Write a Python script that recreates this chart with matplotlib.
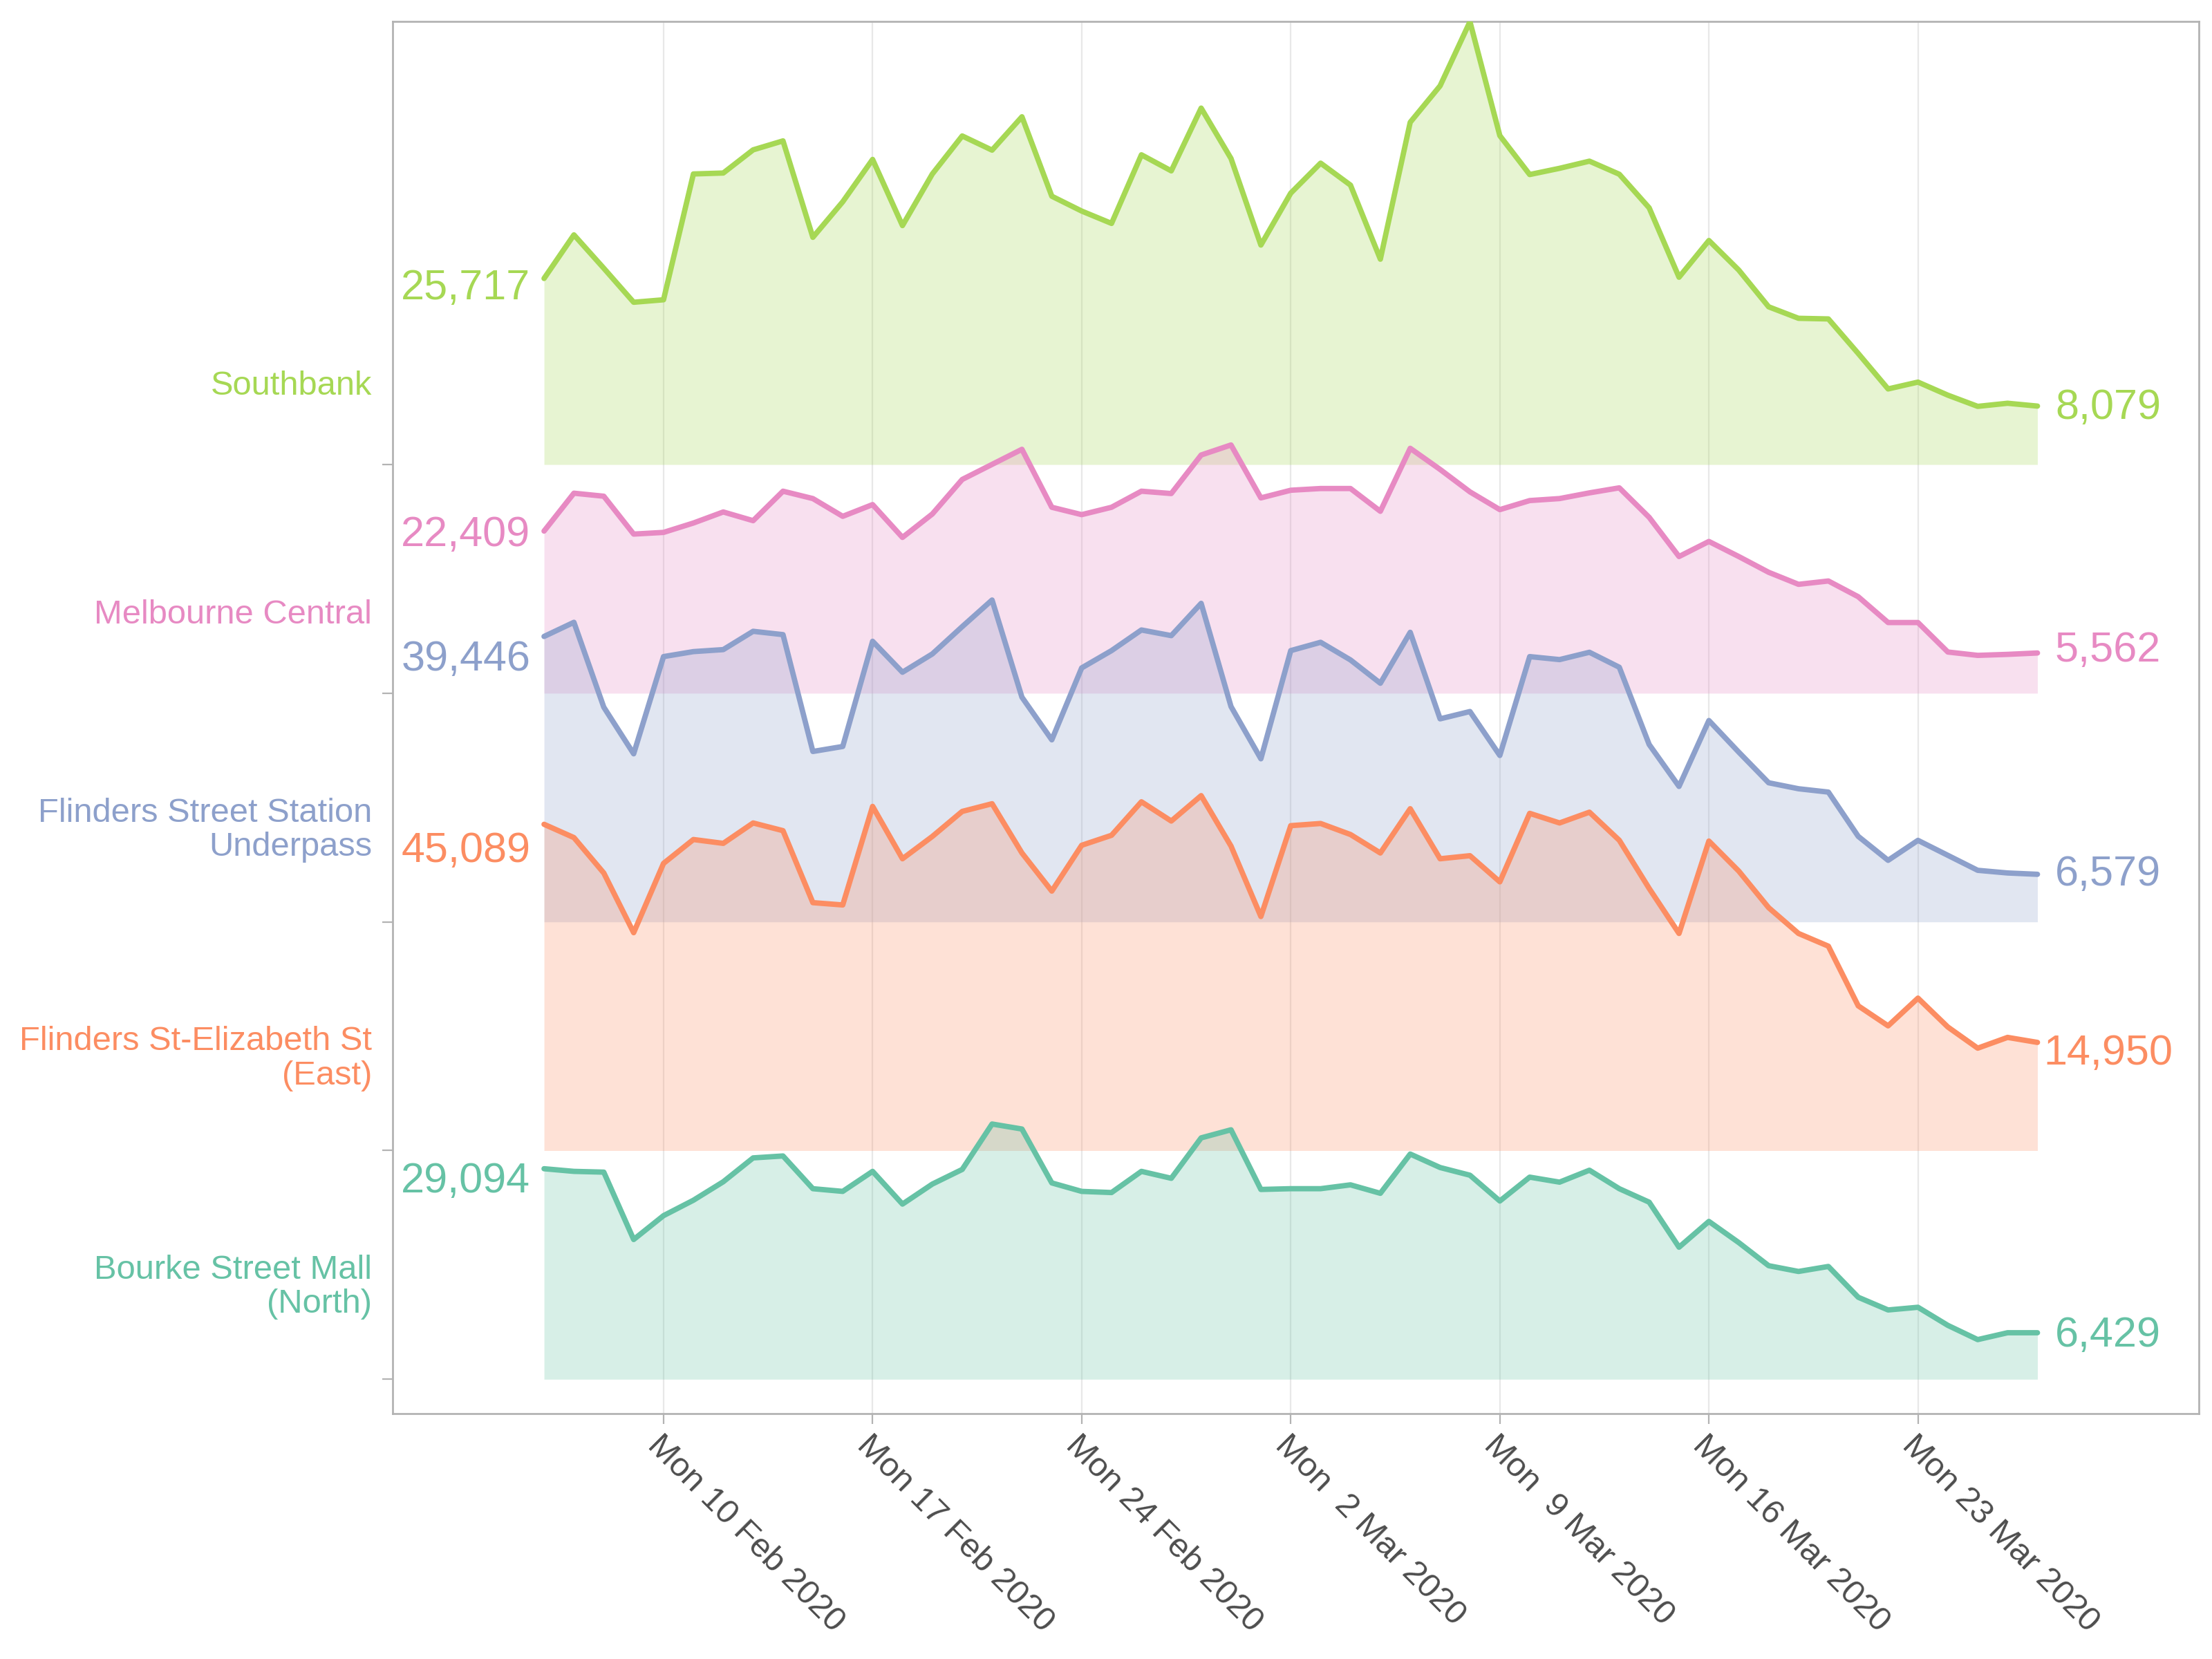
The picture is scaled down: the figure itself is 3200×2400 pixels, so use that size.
import matplotlib
matplotlib.use('Agg')
import matplotlib.pyplot as plt
import matplotlib.dates as mdates
import matplotlib.transforms as mtransforms
import numpy as np
import pandas as pd

plt.rcParams['font.family'] = ['Liberation Sans', 'DejaVu Sans']

# daily pedestrian counts, 6 Feb - 27 Mar 2020
dates = pd.date_range('2020-02-06', periods=51, freq='D')

southbank = [25717, 31741, 27127, 22428, 22770, 40157, 40285, 43489, 44728, 31399,
             36312, 42165, 33023, 40157, 45411, 43446, 48060, 37081, 35030, 33322,
             42805, 40584, 49256, 42293, 30331, 37508, 41652, 38614, 28380, 47300,
             52331, 61200, 45451, 40076, 40936, 41925, 40119, 35475, 25886, 30960,
             26875, 21801, 20210, 20124, 15351, 10449, 11395, 9589, 8041, 8471, 8079]
melbourne = [22409, 27641, 27224, 21993, 22224, 23520, 25048, 23845, 27919, 26900,
             24446, 26067, 21530, 24771, 29539, 31623, 33706, 25697, 24678, 25697,
             27919, 27595, 32919, 34308, 26993, 28050, 28289, 28289, 25141, 33845,
             30928, 27826, 25372, 26623, 26900, 27687, 28382, 24308, 18890, 20974,
             18890, 16714, 15048, 15511, 13334, 9769, 9769, 5695, 5232, 5371, 5562]
fssu = [39446, 41400, 29670, 23230, 36662, 37352, 37628, 40158, 39698, 23552,
        24242, 38778, 34500, 37030, 40802, 44482, 31050, 25162, 35098, 37490,
        40342, 39560, 44022, 29762, 22540, 37490, 38640, 36202, 32982, 40020,
        28060, 29072, 23000, 36662, 36248, 37260, 35190, 24518, 18722, 27830,
        23460, 19228, 18400, 17940, 11822, 8510, 11270, 9200, 7130, 6762, 6579]
fse = [45089, 43252, 38357, 30111, 39687, 42986, 42454, 45273, 44209, 34261,
       33942, 47561, 40326, 43411, 46869, 47933, 41124, 35857, 42188, 43571,
       48199, 45539, 49050, 42081, 32346, 44900, 45200, 43677, 41124, 47242,
       40326, 40751, 37134, 46603, 45273, 46763, 42879, 36229, 30005, 42773,
       38623, 33569, 30005, 28249, 20003, 17237, 21067, 17077, 14151, 15641, 14950]
bourke = [29094, 28728, 28622, 19312, 22610, 24738, 27292, 30590, 30856, 26334,
          25962, 28728, 24206, 26972, 28994, 35272, 34580, 27132, 25962, 25802,
          28728, 27770, 33356, 34474, 26228, 26334, 26334, 26866, 25696, 31122,
          29260, 28196, 24632, 27930, 27238, 28888, 26334, 24472, 18248, 21812,
          18886, 15694, 14896, 15588, 11332, 9576, 9948, 7448, 5480, 6429, 6429]

# bottom to top
sites = ['Bourke Street Mall\n(North)', 'Flinders St-Elizabeth St\n(East)',
         'Flinders Street Station\nUnderpass', 'Melbourne Central', 'Southbank']
series = [bourke, fse, fssu, melbourne, southbank]
colours = ['#66c2a5', '#fc8d62', '#8da0cb', '#e78ac3', '#a6d854']
gap = 31600

# vertical nudge of the end labels (pixels, down is positive)
nudge_first = [12, 33, 27, 0, 8]
nudge_last = [-2, 10, -6, -10, -3.5]

fig = plt.figure(figsize=(16, 12), dpi=200)
ax = fig.add_axes([0.1775, 0.148, 0.8165, 0.839])

x0 = mdates.date2num(dates[0])
x1 = mdates.date2num(dates[-1])
trans = mtransforms.blended_transform_factory(ax.transAxes, ax.transData)
px = 72 / 200

for i in reversed(range(len(sites))):
    base = i * gap
    vals = np.array(series[i])
    c = colours[i]
    ax.fill_between(dates, base, base + vals, color=c, alpha=0.26, lw=0, zorder=2)
    ax.plot(dates, base + vals, color=c, lw=2.8, zorder=3, solid_capstyle='round')
    ax.annotate(f'{vals[0]:,}', (x0 - 2.62, base + vals[0]), xytext=(0, -(nudge_first[i] + 22) * px),
                textcoords='offset points', ha='center', va='baseline', fontsize=22, color=c)
    ax.annotate(f'{vals[-1]:,}', (x1 + 2.36, base + vals[-1]), xytext=(0, -(nudge_last[i] + 22) * px),
                textcoords='offset points', ha='center', va='baseline', fontsize=22, color=c)
    off = 12700 if '\n' in sites[i] else 10850
    ax.text(-0.0115, base + off, sites[i], transform=trans, ha='right', va='center',
            fontsize=17.6, color=c, linespacing=1.12, multialignment='right')

mondays = pd.date_range('2020-02-10', '2020-03-23', freq='7D')
ax.set_xticks(mondays)
ax.set_xticklabels([d.strftime('%a %e %b %Y') for d in mondays], rotation=-45,
                   ha='left', va='top', rotation_mode='anchor', fontsize=17.5,
                   color='#4d4d4d')
ax.set_yticks([i * gap for i in range(len(sites))])
ax.set_yticklabels([])
ax.tick_params(length=5.4, width=0.8, color='#b3b3b3', pad=3)

ax.set_xlim(x0 - 5.07, x0 + 55.4)
ax.set_ylim(-4727, 4 * gap + 61215)

ax.grid(axis='x', color='#e8e8e8', lw=0.8)
ax.set_axisbelow(True)
for s in ax.spines.values():
    s.set_color('#b3b3b3')
    s.set_linewidth(1.0)

fig.savefig('out.png', dpi=200)
